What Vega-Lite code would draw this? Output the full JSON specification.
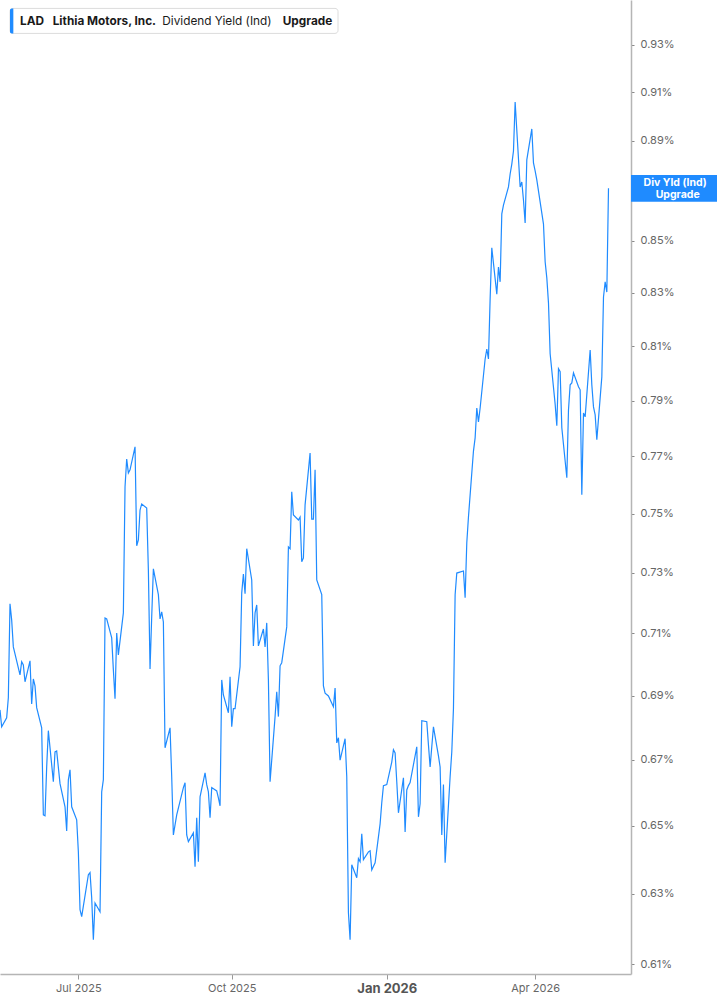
{
  "$schema": "https://vega.github.io/schema/vega-lite/v6.json",
  "width": 631,
  "height": 974,
  "autosize": {"type": "none"},
  "padding": {"left": 0, "top": 0, "right": 86, "bottom": 31},
  "background": "white",
  "config": {"view": {"stroke": null}, "font": "Inter"},
  "layer": [
    {
      "data": {"values": [
        {"date":"2025-05-15","yield":0.6855},{"date":"2025-05-16","yield":0.6802},{"date":"2025-05-19","yield":0.6830},{"date":"2025-05-20","yield":0.6893},{"date":"2025-05-21","yield":0.7197},{"date":"2025-05-22","yield":0.7144},{"date":"2025-05-23","yield":0.7056},{"date":"2025-05-27","yield":0.6966},{"date":"2025-05-28","yield":0.7008},{"date":"2025-05-29","yield":0.6998},{"date":"2025-05-30","yield":0.6944},
        {"date":"2025-06-02","yield":0.7011},{"date":"2025-06-03","yield":0.6874},{"date":"2025-06-04","yield":0.6953},{"date":"2025-06-05","yield":0.6931},{"date":"2025-06-06","yield":0.6862},{"date":"2025-06-09","yield":0.6799},{"date":"2025-06-10","yield":0.6533},{"date":"2025-06-11","yield":0.6530},{"date":"2025-06-12","yield":0.6678},{"date":"2025-06-13","yield":0.6790},{"date":"2025-06-16","yield":0.6633},{"date":"2025-06-17","yield":0.6724},{"date":"2025-06-18","yield":0.6727},{"date":"2025-06-20","yield":0.6627},{"date":"2025-06-23","yield":0.6557},{"date":"2025-06-24","yield":0.6485},{"date":"2025-06-25","yield":0.6639},{"date":"2025-06-26","yield":0.6669},{"date":"2025-06-27","yield":0.6557},{"date":"2025-06-30","yield":0.6518},
        {"date":"2025-07-01","yield":0.6423},{"date":"2025-07-02","yield":0.6255},{"date":"2025-07-03","yield":0.6235},{"date":"2025-07-07","yield":0.6356},{"date":"2025-07-08","yield":0.6362},{"date":"2025-07-09","yield":0.6289},{"date":"2025-07-10","yield":0.6169},{"date":"2025-07-11","yield":0.6274},{"date":"2025-07-14","yield":0.6249},{"date":"2025-07-15","yield":0.6602},{"date":"2025-07-16","yield":0.6639},{"date":"2025-07-17","yield":0.7150},{"date":"2025-07-18","yield":0.7147},{"date":"2025-07-21","yield":0.7085},{"date":"2025-07-22","yield":0.6982},{"date":"2025-07-23","yield":0.6890},{"date":"2025-07-24","yield":0.7101},{"date":"2025-07-25","yield":0.7030},{"date":"2025-07-28","yield":0.7167},{"date":"2025-07-29","yield":0.7594},{"date":"2025-07-30","yield":0.7691},{"date":"2025-07-31","yield":0.7642},
        {"date":"2025-08-01","yield":0.7653},{"date":"2025-08-04","yield":0.7734},{"date":"2025-08-05","yield":0.7391},{"date":"2025-08-06","yield":0.7411},{"date":"2025-08-07","yield":0.7513},{"date":"2025-08-08","yield":0.7534},{"date":"2025-08-11","yield":0.7520},{"date":"2025-08-12","yield":0.7309},{"date":"2025-08-13","yield":0.6985},{"date":"2025-08-14","yield":0.7154},{"date":"2025-08-15","yield":0.7313},{"date":"2025-08-18","yield":0.7227},{"date":"2025-08-19","yield":0.7147},{"date":"2025-08-20","yield":0.7170},{"date":"2025-08-21","yield":0.7137},{"date":"2025-08-22","yield":0.6737},{"date":"2025-08-25","yield":0.6799},{"date":"2025-08-26","yield":0.6648},{"date":"2025-08-27","yield":0.6473},{"date":"2025-08-28","yield":0.6503},{"date":"2025-08-29","yield":0.6533},
        {"date":"2025-09-02","yield":0.6615},{"date":"2025-09-03","yield":0.6630},{"date":"2025-09-04","yield":0.6473},{"date":"2025-09-05","yield":0.6453},{"date":"2025-09-08","yield":0.6479},{"date":"2025-09-09","yield":0.6379},{"date":"2025-09-10","yield":0.6524},{"date":"2025-09-11","yield":0.6394},{"date":"2025-09-12","yield":0.6587},{"date":"2025-09-15","yield":0.6660},{"date":"2025-09-16","yield":0.6624},{"date":"2025-09-17","yield":0.6602},{"date":"2025-09-18","yield":0.6524},{"date":"2025-09-19","yield":0.6615},{"date":"2025-09-22","yield":0.6605},{"date":"2025-09-23","yield":0.6584},{"date":"2025-09-24","yield":0.6560},{"date":"2025-09-25","yield":0.6950},{"date":"2025-09-26","yield":0.6902},{"date":"2025-09-29","yield":0.6846},{"date":"2025-09-30","yield":0.6960},
        {"date":"2025-10-01","yield":0.6802},{"date":"2025-10-02","yield":0.6859},{"date":"2025-10-03","yield":0.6859},{"date":"2025-10-06","yield":0.6992},{"date":"2025-10-07","yield":0.7233},{"date":"2025-10-08","yield":0.7296},{"date":"2025-10-09","yield":0.7230},{"date":"2025-10-10","yield":0.7381},{"date":"2025-10-13","yield":0.7276},{"date":"2025-10-14","yield":0.7059},{"date":"2025-10-15","yield":0.7167},{"date":"2025-10-16","yield":0.7193},{"date":"2025-10-17","yield":0.7059},{"date":"2025-10-20","yield":0.7114},{"date":"2025-10-21","yield":0.7056},{"date":"2025-10-22","yield":0.7134},{"date":"2025-10-23","yield":0.6950},{"date":"2025-10-24","yield":0.6633},{"date":"2025-10-27","yield":0.6834},{"date":"2025-10-28","yield":0.6912},{"date":"2025-10-29","yield":0.6834},{"date":"2025-10-30","yield":0.6995},{"date":"2025-10-31","yield":0.7005},
        {"date":"2025-11-03","yield":0.7121},{"date":"2025-11-04","yield":0.7387},{"date":"2025-11-05","yield":0.7381},{"date":"2025-11-06","yield":0.7576},{"date":"2025-11-07","yield":0.7496},{"date":"2025-11-10","yield":0.7479},{"date":"2025-11-11","yield":0.7489},{"date":"2025-11-12","yield":0.7337},{"date":"2025-11-13","yield":0.7350},{"date":"2025-11-14","yield":0.7531},{"date":"2025-11-17","yield":0.7712},{"date":"2025-11-18","yield":0.7482},{"date":"2025-11-19","yield":0.7482},{"date":"2025-11-20","yield":0.7653},{"date":"2025-11-21","yield":0.7276},{"date":"2025-11-24","yield":0.7227},{"date":"2025-11-25","yield":0.6931},{"date":"2025-11-26","yield":0.6908},{"date":"2025-11-28","yield":0.6899},
        {"date":"2025-12-01","yield":0.6865},{"date":"2025-12-02","yield":0.6924},{"date":"2025-12-03","yield":0.6752},{"date":"2025-12-04","yield":0.6768},{"date":"2025-12-05","yield":0.6699},{"date":"2025-12-08","yield":0.6765},{"date":"2025-12-09","yield":0.6648},{"date":"2025-12-10","yield":0.6246},{"date":"2025-12-11","yield":0.6169},{"date":"2025-12-12","yield":0.6385},{"date":"2025-12-15","yield":0.6347},{"date":"2025-12-16","yield":0.6403},{"date":"2025-12-17","yield":0.6394},{"date":"2025-12-18","yield":0.6476},{"date":"2025-12-19","yield":0.6400},{"date":"2025-12-22","yield":0.6423},{"date":"2025-12-23","yield":0.6426},{"date":"2025-12-24","yield":0.6370},{"date":"2025-12-26","yield":0.6391},{"date":"2025-12-29","yield":0.6506},{"date":"2025-12-30","yield":0.6569},{"date":"2025-12-31","yield":0.6621},
        {"date":"2026-01-02","yield":0.6624},{"date":"2026-01-05","yield":0.6693},{"date":"2026-01-06","yield":0.6731},{"date":"2026-01-07","yield":0.6721},{"date":"2026-01-08","yield":0.6633},{"date":"2026-01-09","yield":0.6539},{"date":"2026-01-12","yield":0.6645},{"date":"2026-01-13","yield":0.6482},{"date":"2026-01-14","yield":0.6608},{"date":"2026-01-15","yield":0.6621},{"date":"2026-01-16","yield":0.6630},{"date":"2026-01-20","yield":0.6740},{"date":"2026-01-21","yield":0.6527},{"date":"2026-01-22","yield":0.6566},{"date":"2026-01-23","yield":0.6821},{"date":"2026-01-26","yield":0.6818},{"date":"2026-01-27","yield":0.6746},{"date":"2026-01-28","yield":0.6678},{"date":"2026-01-29","yield":0.6740},{"date":"2026-01-30","yield":0.6802},
        {"date":"2026-02-02","yield":0.6712},{"date":"2026-02-03","yield":0.6678},{"date":"2026-02-04","yield":0.6473},{"date":"2026-02-05","yield":0.6624},{"date":"2026-02-06","yield":0.6391},{"date":"2026-02-09","yield":0.6648},{"date":"2026-02-10","yield":0.6724},{"date":"2026-02-11","yield":0.6859},{"date":"2026-02-12","yield":0.7227},{"date":"2026-02-13","yield":0.7299},{"date":"2026-02-17","yield":0.7306},{"date":"2026-02-18","yield":0.7217},{"date":"2026-02-19","yield":0.7401},{"date":"2026-02-20","yield":0.7489},{"date":"2026-02-23","yield":0.7719},{"date":"2026-02-24","yield":0.7766},{"date":"2026-02-25","yield":0.7873},{"date":"2026-02-26","yield":0.7823},{"date":"2026-02-27","yield":0.7873},
        {"date":"2026-03-02","yield":0.8052},{"date":"2026-03-03","yield":0.8089},{"date":"2026-03-04","yield":0.8052},{"date":"2026-03-05","yield":0.8277},{"date":"2026-03-06","yield":0.8473},{"date":"2026-03-09","yield":0.8295},{"date":"2026-03-10","yield":0.8399},{"date":"2026-03-11","yield":0.8342},{"date":"2026-03-12","yield":0.8606},{"date":"2026-03-13","yield":0.8641},{"date":"2026-03-16","yield":0.8713},{"date":"2026-03-17","yield":0.8765},{"date":"2026-03-18","yield":0.8805},{"date":"2026-03-19","yield":0.8858},{"date":"2026-03-20","yield":0.9059},{"date":"2026-03-23","yield":0.8713},{"date":"2026-03-24","yield":0.8733},{"date":"2026-03-25","yield":0.8661},{"date":"2026-03-26","yield":0.8570},{"date":"2026-03-27","yield":0.8822},{"date":"2026-03-30","yield":0.8948},{"date":"2026-03-31","yield":0.8810},
        {"date":"2026-04-01","yield":0.8777},{"date":"2026-04-02","yield":0.8741},{"date":"2026-04-06","yield":0.8566},{"date":"2026-04-07","yield":0.8419},{"date":"2026-04-08","yield":0.8357},{"date":"2026-04-09","yield":0.8262},{"date":"2026-04-10","yield":0.8071},{"date":"2026-04-13","yield":0.7887},{"date":"2026-04-14","yield":0.7809},{"date":"2026-04-15","yield":0.8016},{"date":"2026-04-16","yield":0.8005},{"date":"2026-04-17","yield":0.7802},{"date":"2026-04-20","yield":0.7625},{"date":"2026-04-21","yield":0.7866},{"date":"2026-04-22","yield":0.7957},{"date":"2026-04-23","yield":0.7964},{"date":"2026-04-24","yield":0.8001},{"date":"2026-04-27","yield":0.7950},{"date":"2026-04-28","yield":0.7939},{"date":"2026-04-29","yield":0.7566},{"date":"2026-04-30","yield":0.7855},
        {"date":"2026-05-01","yield":0.7841},{"date":"2026-05-04","yield":0.8085},{"date":"2026-05-05","yield":0.7957},{"date":"2026-05-06","yield":0.7877},{"date":"2026-05-07","yield":0.7848},{"date":"2026-05-08","yield":0.7759},{"date":"2026-05-11","yield":0.7986},{"date":"2026-05-12","yield":0.8284},{"date":"2026-05-13","yield":0.8342},{"date":"2026-05-14","yield":0.8303},{"date":"2026-05-15","yield":0.8708}
      ]},
      "mark": {"type": "line", "color": "#1f8bff", "strokeWidth": 1.2, "clip": true},
      "encoding": {
        "x": {
          "field": "date", "type": "temporal",
          "scale": {"type": "utc", "nice": false, "domain": [{"year": 2025, "month": 5, "date": 15, "utc": true}, {"year": 2026, "month": 5, "date": 28, "hours": 12, "utc": true}]},
          "axis": {
            "orient": "bottom", "title": null, "grid": false,
            "values": [{"year": 2025, "month": 7, "date": 1, "utc": true}, {"year": 2025, "month": 10, "date": 1, "utc": true}, {"year": 2026, "month": 1, "date": 2, "utc": true}, {"year": 2026, "month": 4, "date": 1, "utc": true}],
            "format": "%b %Y",
            "domainColor": "#b5b5b5", "domainWidth": 1.5,
            "tickColor": "#999999", "tickSize": 5, "tickWidth": 1,
            "labelPadding": 3, "labelFont": "Inter",
            "labelColor": {"condition": {"test": "utcmonth(datum.value) === 0", "value": "#555555"}, "value": "#666666"},
            "labelFontWeight": {"condition": {"test": "utcmonth(datum.value) === 0", "value": "bold"}, "value": "normal"},
            "labelFontSize": {"condition": {"test": "utcmonth(datum.value) === 0", "value": 13}, "value": 11}
          }
        },
        "y": {
          "field": "yield", "type": "quantitative",
          "scale": {"type": "log", "domain": [0.6073, 0.9493], "nice": false, "zero": false},
          "axis": {
            "orient": "right", "title": null, "grid": false,
            "values": [0.61, 0.63, 0.65, 0.67, 0.69, 0.71, 0.73, 0.75, 0.77, 0.79, 0.81, 0.83, 0.85, 0.89, 0.91, 0.93],
            "labelExpr": "format(datum.value, '.2f') + '%'",
            "domainColor": "#b5b5b5", "domainWidth": 1.5,
            "tickColor": "#888888", "tickSize": 3,
            "labelColor": "#666666", "labelFontSize": 11, "labelFont": "Inter", "labelPadding": 6
          }
        }
      }
    },
    {
      "data": {"values": [{}]},
      "mark": {"type": "rect", "fill": "white", "stroke": "#dcdcdc", "strokeWidth": 1, "cornerRadius": 3},
      "encoding": {
        "x": {"datum": {"year": 2025, "month": 5, "date": 21, "utc": true}, "type": "temporal"},
        "x2": {"datum": {"year": 2025, "month": 12, "date": 3, "hours": 18, "utc": true}},
        "y": {"datum": 0.94565, "type": "quantitative"},
        "y2": {"datum": 0.93487}
      }
    },
    {
      "data": {"values": [{}]},
      "mark": {"type": "rect", "fill": "#1f8bff", "cornerRadiusTopLeft": 3, "cornerRadiusBottomLeft": 3},
      "encoding": {
        "x": {"datum": {"year": 2025, "month": 5, "date": 21, "utc": true}, "type": "temporal"},
        "x2": {"datum": {"year": 2025, "month": 5, "date": 23, "utc": true}},
        "y": {"datum": 0.94565, "type": "quantitative"},
        "y2": {"datum": 0.93487}
      }
    },
    {
      "data": {"values": [{}]},
      "mark": {"type": "text", "text": "LAD", "font": "Inter", "fontSize": 11.8, "fontWeight": "bold", "color": "#1a1a1a", "align": "left", "baseline": "middle"},
      "encoding": {
        "x": {"datum": {"year": 2025, "month": 5, "date": 27, "utc": true}, "type": "temporal"},
        "y": {"datum": 0.94038, "type": "quantitative"}
      }
    },
    {
      "data": {"values": [{}]},
      "mark": {"type": "text", "text": "Lithia Motors, Inc.", "font": "Inter", "fontSize": 11.8, "fontWeight": "bold", "color": "#1a1a1a", "align": "left", "baseline": "middle"},
      "encoding": {
        "x": {"datum": {"year": 2025, "month": 6, "date": 15, "hours": 14, "minutes": 24, "utc": true}, "type": "temporal"},
        "y": {"datum": 0.94038, "type": "quantitative"}
      }
    },
    {
      "data": {"values": [{}]},
      "mark": {"type": "text", "text": "Dividend Yield (Ind)", "font": "Inter", "fontSize": 11.8, "fontWeight": "normal", "color": "#1a1a1a", "align": "left", "baseline": "middle"},
      "encoding": {
        "x": {"datum": {"year": 2025, "month": 8, "date": 20, "hours": 8, "minutes": 38, "utc": true}, "type": "temporal"},
        "y": {"datum": 0.94038, "type": "quantitative"}
      }
    },
    {
      "data": {"values": [{}]},
      "mark": {"type": "text", "text": "Upgrade", "font": "Inter", "fontSize": 11.8, "fontWeight": "bold", "color": "#1a1a1a", "align": "left", "baseline": "middle"},
      "encoding": {
        "x": {"datum": {"year": 2025, "month": 10, "date": 31, "hours": 14, "utc": true}, "type": "temporal"},
        "y": {"datum": 0.94038, "type": "quantitative"}
      }
    },
    {
      "data": {"values": [{}]},
      "mark": {"type": "rect", "fill": "#1f8bff"},
      "encoding": {
        "x": {"datum": {"year": 2026, "month": 5, "date": 28, "hours": 12, "utc": true}, "type": "temporal"},
        "x2": {"datum": {"year": 2026, "month": 7, "date": 19, "hours": 3, "utc": true}},
        "y": {"datum": 0.87606, "type": "quantitative"},
        "y2": {"datum": 0.8654}
      }
    },
    {
      "data": {"values": [{}]},
      "mark": {"type": "text", "text": "Div Yld (Ind)", "font": "Inter", "fontSize": 10.5, "fontWeight": "bold", "color": "white", "align": "center", "baseline": "middle"},
      "encoding": {
        "x": {"datum": {"year": 2026, "month": 6, "date": 24, "utc": true}, "type": "temporal"},
        "y": {"datum": 0.87305, "type": "quantitative"}
      }
    },
    {
      "data": {"values": [{}]},
      "mark": {"type": "text", "text": "Upgrade", "font": "Inter", "fontSize": 10.5, "fontWeight": "bold", "color": "white", "align": "center", "baseline": "middle"},
      "encoding": {
        "x": {"datum": {"year": 2026, "month": 6, "date": 25, "hours": 12, "utc": true}, "type": "temporal"},
        "y": {"datum": 0.86826, "type": "quantitative"}
      }
    }
  ]
}
